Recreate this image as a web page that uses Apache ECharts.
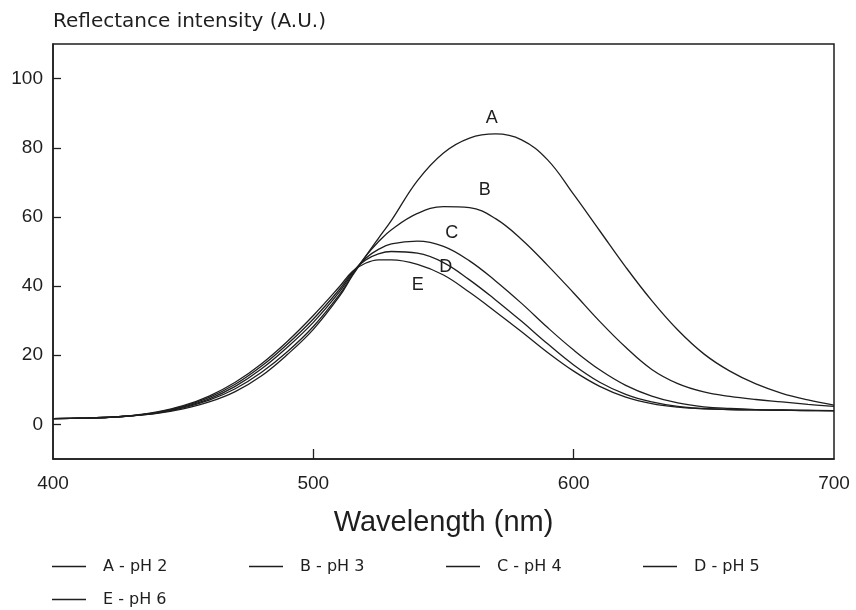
<!DOCTYPE html>
<html>
<head>
<meta charset="utf-8">
<script src="https://cdn.jsdelivr.net/npm/echarts@6/dist/echarts.min.js"></script>
<style>
  html, body { margin: 0; padding: 0; background: #fff; }
  #chart { width: 856px; height: 610px; }
</style>
</head>
<body>
<div id="chart"></div>
<script>
// wavelengths (nm)
const wavelengths = [400, 410, 420, 430, 440, 450, 460, 470, 480, 490, 500, 510, 515, 520, 525, 530, 540, 550,
  560, 570, 580, 590, 600, 610, 620, 630, 640, 650, 660, 670, 680, 690, 700];

// reflectance intensity per pH
const curveA = [1.7, 1.8, 2.0, 2.5, 3.2, 4.5, 6.5, 9.5, 14, 20.2, 27.5, 37, 43, 48.5, 53.8, 59, 70.5, 78.5,
  82.8, 84, 82.3, 76.5, 66.5, 56, 45.5, 35.8, 27.3, 20.4, 15.4, 11.7, 9, 7.1, 5.6];
const curveB = [1.7, 1.8, 2.0, 2.5, 3.3, 4.8, 7.0, 10.3, 15, 21, 28.3, 37.5, 43.3, 48.5, 52.8, 56.3, 61, 63,
  62.7, 59.5, 53.5, 46, 38, 29.8, 22.3, 15.9, 11.8, 9.4, 8.1, 7.2, 6.5, 5.8, 5.2];
const curveC = [1.7, 1.8, 2.0, 2.5, 3.4, 5.0, 7.4, 11.0, 16, 22.3, 29.5, 38.3, 43.7, 48, 50.6, 52.2, 53, 51.5,
  47.3, 41.5, 35, 28, 21.5, 15.8, 11.3, 8.2, 6.2, 5.1, 4.6, 4.3, 4.2, 4.1, 4];
const curveD = [1.7, 1.8, 2.0, 2.5, 3.5, 5.2, 7.8, 11.6, 16.8, 23.2, 30.5, 39, 44, 47.5, 49.3, 50, 49.5, 46.8,
  41.8, 36, 29.8, 23.3, 17.2, 12.2, 8.7, 6.5, 5.2, 4.6, 4.3, 4.2, 4.1, 4, 4];
const curveE = [1.7, 1.8, 2.0, 2.5, 3.6, 5.4, 8.2, 12.2, 17.5, 24, 31.5, 39.8, 44.2, 46.6, 47.6, 47.6, 46.3, 43.2,
  38.2, 32.6, 26.8, 20.8, 15.4, 11, 7.9, 6, 5, 4.5, 4.3, 4.2, 4.1, 4, 3.9];

const seriesNames = ['A - pH 2', 'B - pH 3', 'C - pH 4', 'D - pH 5', 'E - pH 6'];
const curveLetters = ['A', 'B', 'C', 'D', 'E'];
// where each letter sits on the chart, in data units [nm, intensity]
const letterSpots = [[568.5, 88.7], [565.8, 67.9], [553.2, 55.2], [550.9, 45.4], [540.1, 40.2]];

const yTicks = [0, 20, 40, 60, 80, 100];
const xTicks = [400, 500, 600, 700];

const curves = [curveA, curveB, curveC, curveD, curveE];
const font = 'Liberation Sans, Arial, sans-serif';
const wideFont = 'DejaVu Sans, Verdana, sans-serif';
const ink = '#1e1e1e';

const chart = echarts.init(document.getElementById('chart'));

chart.setOption({
  backgroundColor: '#fff',
  animation: false,
  textStyle: { fontFamily: font, color: ink },
  title: {
    text: 'Reflectance intensity (A.U.)',
    left: 48,
    top: 7,
    textStyle: { fontFamily: wideFont, fontSize: 20, fontWeight: 'normal', color: ink },
  },
  grid: {
    left: 53,
    right: 22,
    top: 44,
    bottom: 151,
    show: true,
    borderColor: ink,
    borderWidth: 1.5,
    backgroundColor: 'transparent',
  },
  legend: {
    data: seriesNames,
    left: 52,
    top: 556,
    width: 800,
    padding: 0,
    icon: 'rect',
    itemWidth: 34,
    itemHeight: 1.5,
    itemGap: 12,
    textStyle: {
      fontFamily: wideFont,
      fontSize: 16,
      color: ink,
      width: 134,
      lineHeight: 21,
      padding: [0, 0, 0, 12],
    },
  },
  xAxis: {
    type: 'value',
    min: 400,
    max: 700,
    interval: 100,
    name: 'Wavelength (nm)',
    nameLocation: 'middle',
    nameGap: 49,
    nameTextStyle: { fontFamily: font, fontSize: 29, color: ink },
    axisLine: { show: true, onZero: false, lineStyle: { color: ink, width: 1.5 } },
    axisTick: {
      show: true,
      inside: true,
      length: 10,
      customValues: [500, 600],
      lineStyle: { color: ink, width: 1.3 },
    },
    axisLabel: {
      customValues: xTicks,
      fontSize: 19,
      color: ink,
      margin: 15,
      fontFamily: font,
    },
    splitLine: { show: false },
  },
  yAxis: {
    type: 'value',
    min: -10,
    max: 110,
    axisLine: { show: true, onZero: false, lineStyle: { color: ink, width: 1.5 } },
    axisTick: {
      show: true,
      inside: true,
      length: 8,
      customValues: yTicks,
      lineStyle: { color: ink, width: 1.3 },
    },
    axisLabel: {
      customValues: yTicks,
      fontSize: 19,
      color: ink,
      margin: 10,
      fontFamily: font,
    },
    splitLine: { show: false },
  },
  series: curves.map((vals, i) => ({
    name: seriesNames[i],
    type: 'line',
    smooth: 0.4,
    showSymbol: false,
    symbol: 'none',
    data: wavelengths.map((w, k) => [w, vals[k]]),
    lineStyle: { color: ink, width: 1.3 },
    itemStyle: { color: ink },
    markPoint: {
      symbol: 'circle',
      symbolSize: 0,
      data: [{ coord: letterSpots[i], value: curveLetters[i] }],
      label: {
        show: true,
        position: 'inside',
        formatter: curveLetters[i],
        fontFamily: font,
        fontSize: 18,
        color: ink,
      },
    },
  })),
});
</script>
</body>
</html>
